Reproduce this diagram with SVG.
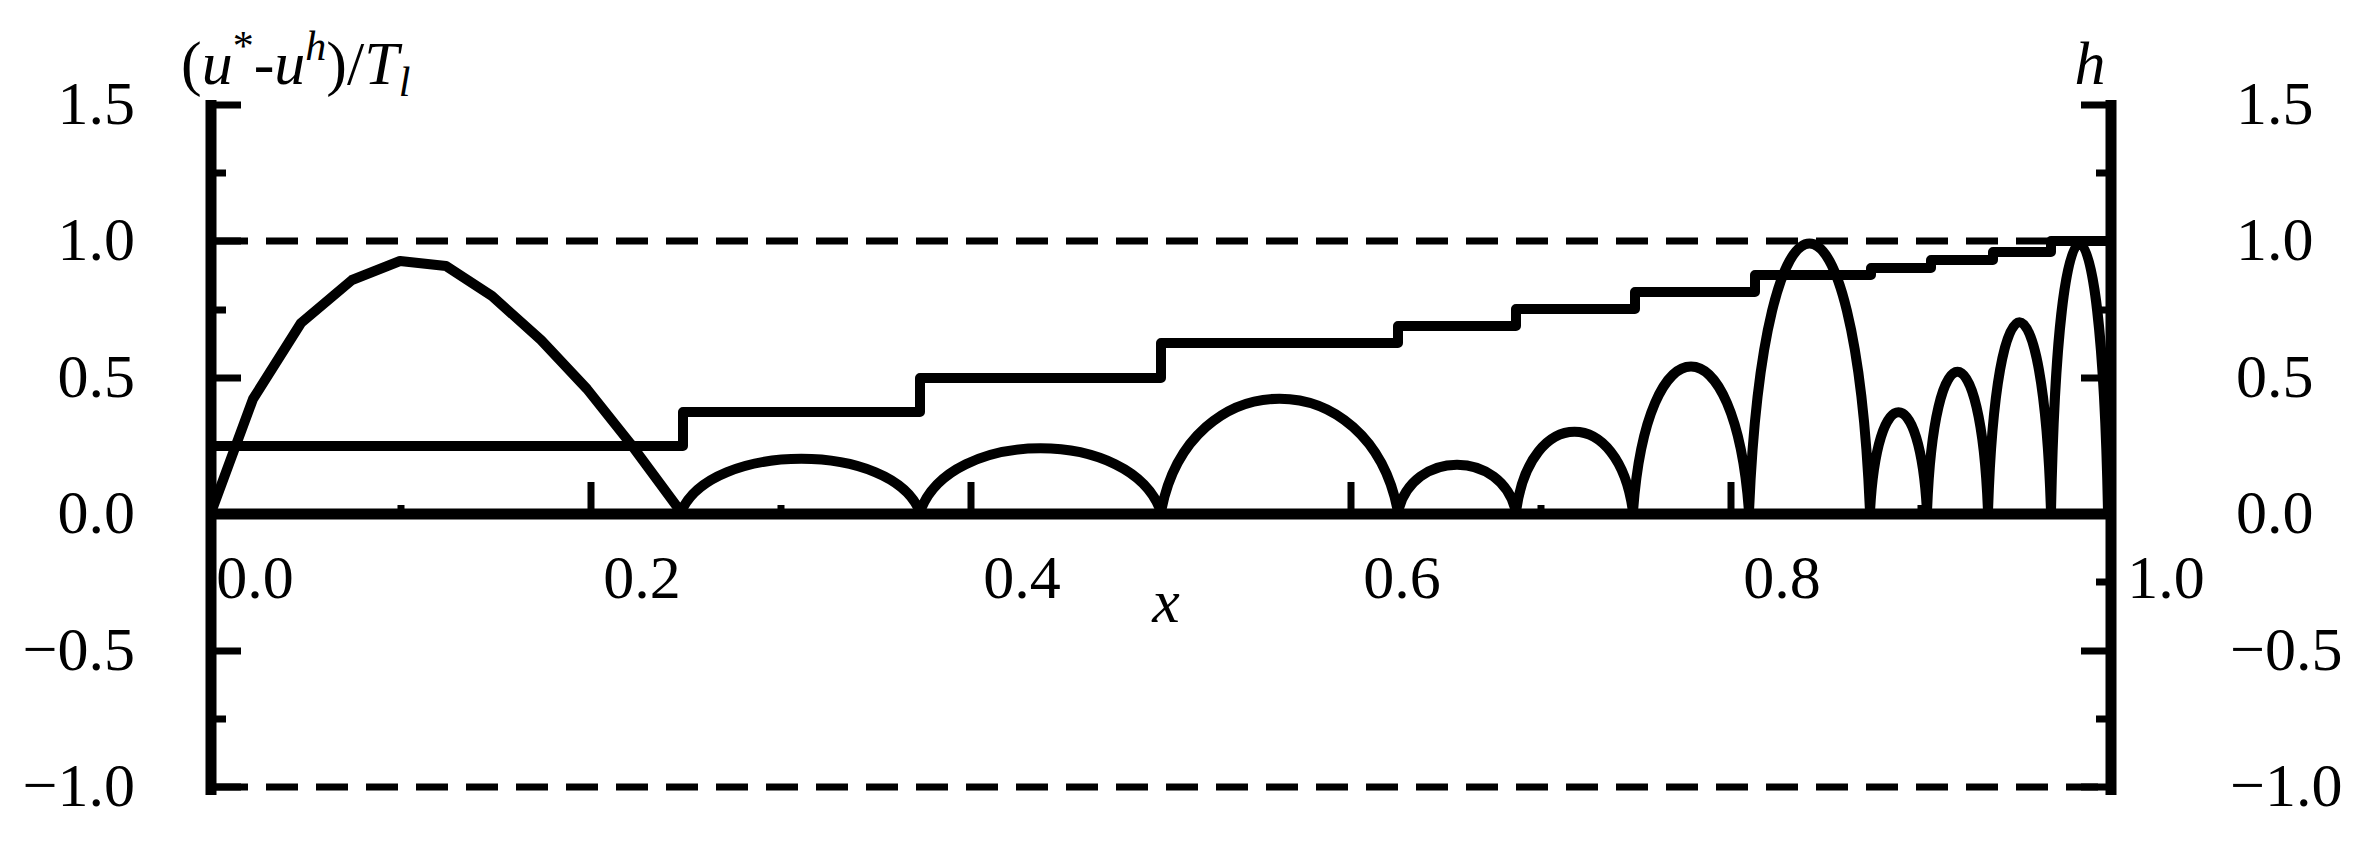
<svg xmlns="http://www.w3.org/2000/svg" width="2365" height="855" viewBox="0 0 2365 855">
<style>
text{font-family:"Liberation Serif",serif;font-size:62px;fill:#000}
.it{font-style:italic}
.ax{stroke:#000;stroke-width:11;fill:none}
.tk{stroke:#000;stroke-width:7;fill:none}
.cv{stroke:#000;stroke-width:10;fill:none;stroke-linejoin:round}
.ds{stroke:#000;stroke-width:7;fill:none;stroke-dasharray:32 18}
</style>
<rect width="2365" height="855" fill="#fff"/>
<g id="axes">
<line class="ds" x1="216" y1="241" x2="2105" y2="241"/>
<line class="ds" x1="216" y1="787" x2="2105" y2="787"/>
<line class="ax" x1="211" y1="100" x2="211" y2="795"/>
<line class="ax" x1="2111" y1="100" x2="2111" y2="795"/>
<line class="ax" x1="211" y1="514" x2="2111" y2="514"/>
<path class="tk" d="M211 105H241M211 241H241M211 378H241M211 651H241M211 787H241M211 173H226M211 310H226M211 719H226"/>
<path class="tk" d="M2111 105H2081M2111 241H2081M2111 378H2081M2111 651H2081M2111 787H2081M2111 173H2096M2111 310H2096M2111 582H2096M2111 719H2096"/>
<path class="tk" d="M591 514V482M971 514V482M1351 514V482M1731 514V482M401 514V505M781 514V505M1161 514V505M1541 514V505M1921 514V505"/>
</g>
<g id="labels">
<text x="135" y="124" text-anchor="end">1.5</text>
<text x="135" y="260" text-anchor="end">1.0</text>
<text x="135" y="397" text-anchor="end">0.5</text>
<text x="135" y="533" text-anchor="end">0.0</text>
<text x="135" y="670" text-anchor="end">−0.5</text>
<text x="135" y="806" text-anchor="end">−1.0</text>
<text x="2236" y="124">1.5</text>
<text x="2236" y="260">1.0</text>
<text x="2236" y="397">0.5</text>
<text x="2236" y="533">0.0</text>
<text x="2230" y="670">−0.5</text>
<text x="2230" y="806">−1.0</text>
<text x="255" y="598" text-anchor="middle">0.0</text>
<text x="642" y="598" text-anchor="middle">0.2</text>
<text x="1022" y="598" text-anchor="middle">0.4</text>
<text x="1402" y="598" text-anchor="middle">0.6</text>
<text x="1782" y="598" text-anchor="middle">0.8</text>
<text x="2166" y="598" text-anchor="middle">1.0</text>
<text class="it" x="1166" y="622" text-anchor="middle">x</text>
<text class="it" x="2090" y="84" text-anchor="middle">h</text>
<text x="181" y="84">(<tspan class="it">u</tspan><tspan dy="-24" font-size="42">*</tspan><tspan dy="24">-</tspan><tspan class="it">u</tspan><tspan class="it" dy="-24" font-size="42">h</tspan><tspan dy="24">)/</tspan><tspan class="it">T</tspan><tspan class="it" dy="12" font-size="42">l</tspan></text>
</g>
<g id="connectors">
<path id="step" class="cv" d="M211 446H683V412H920V378H1161V343H1398V326H1516V309H1635V292H1755V275H1871V268H1931V260H1993V252H2051V241H2111"/>
<path id="error" class="cv" d="M212 510L253 399L301 323L352 280L400 261L446 266L492 296L541 340L587 389L630 443L681 512
C711 441 892 441 920 512 C949 427 1132 427 1161 512 C1189 361 1370 361 1398 512 C1412 449 1502 449 1516 512 C1530 405 1619 405 1633 512 C1647 318 1735 318 1749 512 C1764 154 1855 154 1870 512 C1877 379 1920 379 1927 512 C1934 325 1981 325 1988 512 C1996 259 2043 259 2051 512 C2058 154 2101 154 2108 512"/>
</g>
</svg>
